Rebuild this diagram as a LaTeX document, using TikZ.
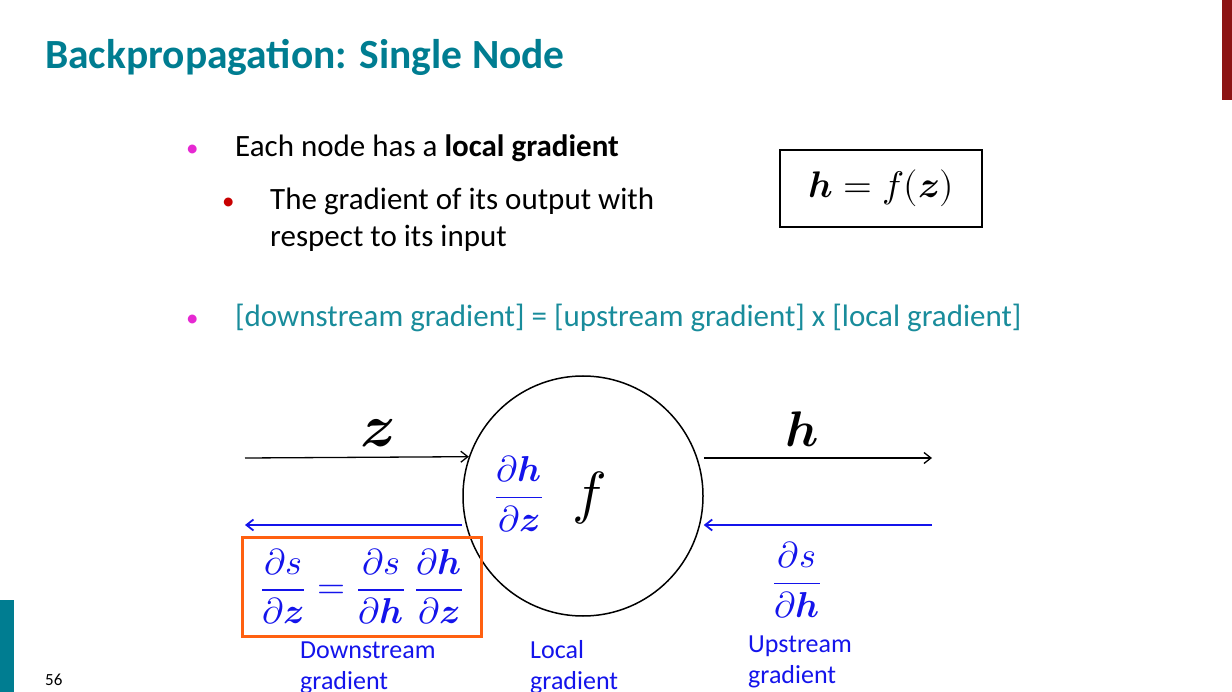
\documentclass[tikz,border=0pt]{standalone}
\usepackage{xcolor}
\usepackage{fontspec}
\usepackage{unicode-math}
\setmainfont{Carlito}
\setmathfont{Latin Modern Math}
\usepackage{tikz}
\usetikzlibrary{calc}
\usetikzlibrary{arrows.meta}

\definecolor{titleteal}{RGB}{0,125,145}
\definecolor{textteal}{RGB}{25,140,155}
\definecolor{gradblue}{RGB}{20,20,235}
\definecolor{boxorange}{RGB}{255,96,16}
\definecolor{bulletmag}{RGB}{230,40,210}
\definecolor{bulletred}{RGB}{200,0,0}
\definecolor{barred}{RGB}{140,20,20}

\begin{document}
\begin{tikzpicture}[x=1pt,y=-1pt,
		txt/.style={anchor=base west,inner sep=0pt,align=left,font=\fontsize{31}{37}\selectfont},
		dot/.style={anchor=base west,inner sep=0pt,font=\fontsize{25}{30}\selectfont},
		lbl/.style={anchor=base west,inner sep=0pt,align=left,text=gradblue,font=\fontsize{26}{31}\selectfont},
		mth/.style={inner sep=0pt,font=\fontsize{36}{40}\selectfont},
		fwd/.style={line width=1.3pt,-{Straight Barb[length=7pt,width=11pt]}},
		bwd/.style={line width=1.8pt,draw=gradblue,-{Straight Barb[length=7pt,width=11pt]}}]
		\useasboundingbox (0,0) rectangle (1232,692);
		\fill [barred] (1222,0) rectangle (1232,100);
		\fill [titleteal] (0,600) rectangle (14,692);
		\node [anchor=base west,inner sep=0pt,text=titleteal,font=\fontsize{41.5}{48}\selectfont\bfseries] (title) at (45,69) {Backpropagation: Single Node};
		\node [dot,text=bulletmag] (b1) at (186,157) {•};
		\node [txt] (t1) at (235,157) {Each node has a \textbf{local gradient}};
		\node [dot,text=bulletred] (b2) at (222,210) {•};
		\node [txt] (t2) at (270,247) {The gradient of its output with\\respect to its input};
		\node [dot,text=bulletmag] (b3) at (186,327) {•};
		\node [txt,text=textteal] (t3) at (235,327) {[downstream gradient] = [upstream gradient] x [local gradient]};
		\node [draw,line width=2pt,minimum width=202pt,minimum height=77pt,inner sep=0pt,font=\fontsize{37}{40}\selectfont] (hbox) at (881,188.5) {$\symbfit{h}=f(\symbfit{z})$};
		\node [circle,draw,line width=1.5pt,minimum size=240pt,inner sep=0pt] (f) at (583,496) {};
		\node [mth,text=gradblue] (lg) at (519,494) {$\displaystyle\frac{\partial\symbfit{h}}{\partial\symbfit{z}}$};
		\node [anchor=base,inner sep=0pt,font=\fontsize{58}{62}\selectfont] (fn) at (589,512) {$f$};
		\node [anchor=base,inner sep=0pt,font=\fontsize{60}{64}\selectfont] (zl) at (377,447) {$\symbfit{z}$};
		\node [anchor=base,inner sep=0pt,font=\fontsize{50}{56}\selectfont] (hl) at (802,447) {$\symbfit{h}$};
		\coordinate (zin) at (245,458);
		\coordinate (hout) at (932,458);
		\coordinate (dsout) at (245,525);
		\coordinate (usin) at (932,525);
		\draw [fwd] (zin) -- (f.161.5);
		\draw [fwd] (f.east |- hout) -- (hout);
		\draw [bwd] (usin) -- (f.east |- usin);
		\draw [bwd] (f.west |- dsout) -- (dsout);
		\node [mth,draw=boxorange,line width=3pt,minimum width=239pt,minimum height=99pt,text=gradblue] (chain) at (362,586.5) {$\displaystyle\frac{\partial s}{\partial\symbfit{z}}\mkern1mu=\mkern1mu\frac{\partial s}{\partial\symbfit{h}}\;\frac{\partial\symbfit{h}}{\partial\symbfit{z}}$};
		\node [mth,text=gradblue] (ug) at (797,580) {$\displaystyle\frac{\partial s}{\partial\symbfit{h}}$};
		\node [lbl] (dl) at (300,689) {Downstream\\gradient};
		\node [lbl] (ll) at (530,689) {Local\\gradient};
		\node [lbl] (ul) at (748,683) {Upstream\\gradient};
		\node [anchor=base west,inner sep=0pt,font=\fontsize{17}{19}\selectfont] (pg) at (45,685) {56};
	\end{tikzpicture}
\end{document}
